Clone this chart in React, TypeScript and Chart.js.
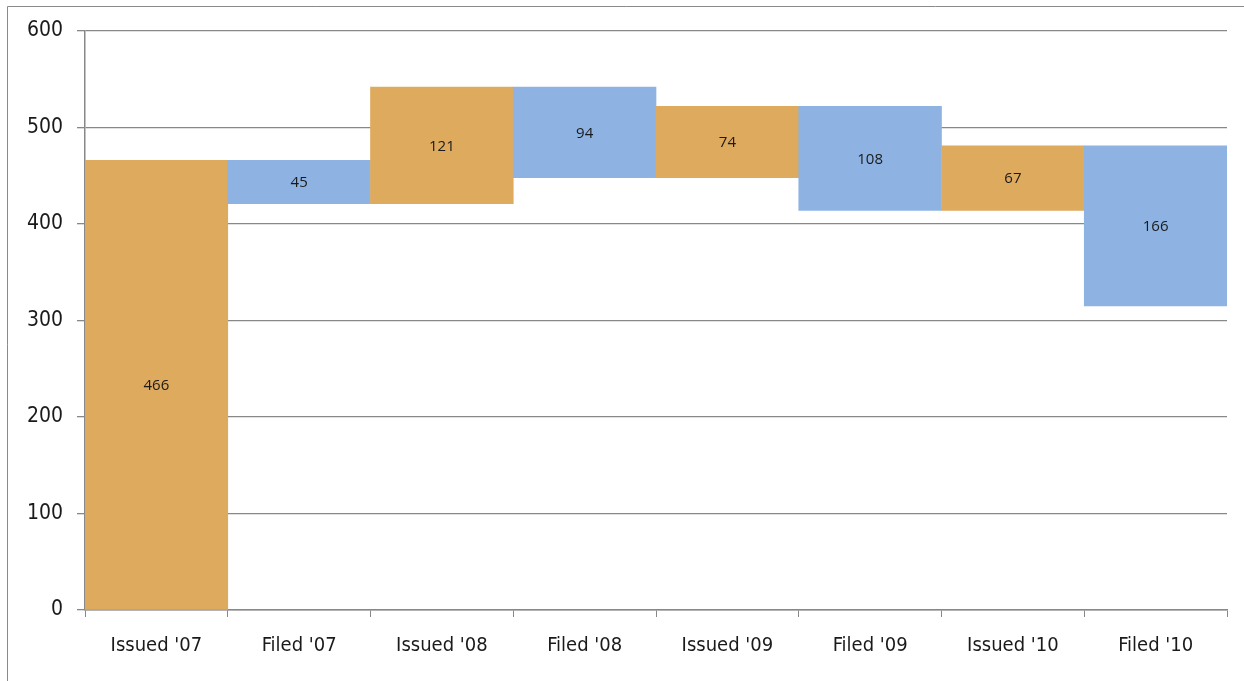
import React, { useEffect, useRef } from "react";
import { Chart, registerables } from "chart.js";

Chart.register(...registerables);

const categories = ["Issued '07", "Filed '07", "Issued '08", "Filed '08", "Issued '09", "Filed '09", "Issued '10", "Filed '10"];
const changes = [466, 45, 121, 94, 74, 108, 67, 166];
const barStarts = [0, 421, 421, 448, 448, 414, 414, 315];
const barEnds = [466, 466, 542, 542, 522, 522, 481, 481];
const barColors = ["#DEAA5E", "#8EB3E2", "#DEAA5E", "#8EB3E2", "#DEAA5E", "#8EB3E2", "#DEAA5E", "#8EB3E2"];
const yTicks = [0, 100, 200, 300, 400, 500, 600];

const AXIS_FONT = "'DejaVu Sans Condensed', 'Liberation Sans Narrow', sans-serif";

const framePlugin = {
  id: "frame",
  beforeDraw(chart: any) {
    const ctx = chart.ctx;
    ctx.save();
    ctx.fillStyle = "#ffffff";
    ctx.fillRect(0, 0, chart.width, chart.height);
    ctx.strokeStyle = "#8a8a8a";
    ctx.lineWidth = 1;
    ctx.beginPath();
    ctx.moveTo(7.5, chart.height + 5);
    ctx.lineTo(7.5, 6.5);
    ctx.lineTo(chart.width + 5, 6.5);
    ctx.stroke();
    ctx.restore();
  },
};

const labelPlugin = {
  id: "barLabels",
  afterDatasetsDraw(chart: any) {
    const ctx = chart.ctx;
    const meta = chart.getDatasetMeta(0);
    ctx.save();
    ctx.font = "15px 'Open Sans', 'Noto Sans', sans-serif";
    ctx.fillStyle = "#1a1a1a";
    ctx.textAlign = "center";
    ctx.textBaseline = "middle";
    meta.data.forEach((el: any, i: number) => {
      const p = el.getProps(["x", "y", "base"], true);
      ctx.fillText(String(changes[i]), p.x, (p.y + p.base) / 2 + 1);
    });
    ctx.restore();
  },
};

export default function App() {
  const ref = useRef<HTMLCanvasElement | null>(null);
  useEffect(() => {
    if (!ref.current) return;
    const chart = new Chart(ref.current, {
      type: "bar",
      data: {
        labels: categories,
        datasets: [
          {
            data: barStarts.map((s, i) => [s, barEnds[i]]) as any,
            backgroundColor: barColors,
            borderWidth: 0,
            barPercentage: 1,
            categoryPercentage: 1,
          },
        ],
      },
      options: {
        responsive: false,
        animation: false,
        layout: { padding: { left: 0, top: 31, right: 17, bottom: 0 } },
        plugins: { legend: { display: false }, tooltip: { enabled: false } },
        scales: {
          x: {
            offset: true,
            grid: { offset: true, drawOnChartArea: false, drawTicks: true, tickLength: 7, color: "#888888", lineWidth: 1 },
            border: { color: "#888888", width: 1.5 },
            ticks: { color: "#1a1a1a", font: { family: AXIS_FONT, size: 20 }, padding: 17, maxRotation: 0, autoSkip: false },
            afterFit(scale: any) {
              scale.height = 71;
            },
          },
          y: {
            min: 0,
            max: 600,
            afterBuildTicks(scale: any) {
              scale.ticks = yTicks.map((v) => ({ value: v }));
            },
            grid: { color: "#888888", lineWidth: 1.3, tickLength: 8, drawTicks: true },
            border: { color: "#888888", width: 1.5 },
            ticks: { color: "#1a1a1a", font: { family: AXIS_FONT, size: 21 }, padding: 14 },
            afterFit(scale: any) {
              scale.width = 85;
            },
          },
        },
      },
      plugins: [framePlugin, labelPlugin],
    });
    return () => chart.destroy();
  }, []);
  return (
    <canvas
      ref={ref}
      width={1244}
      height={681}
      style={{ position: "fixed", left: 0, top: 0, width: 1244, height: 681, display: "block" }}
    />
  );
}
